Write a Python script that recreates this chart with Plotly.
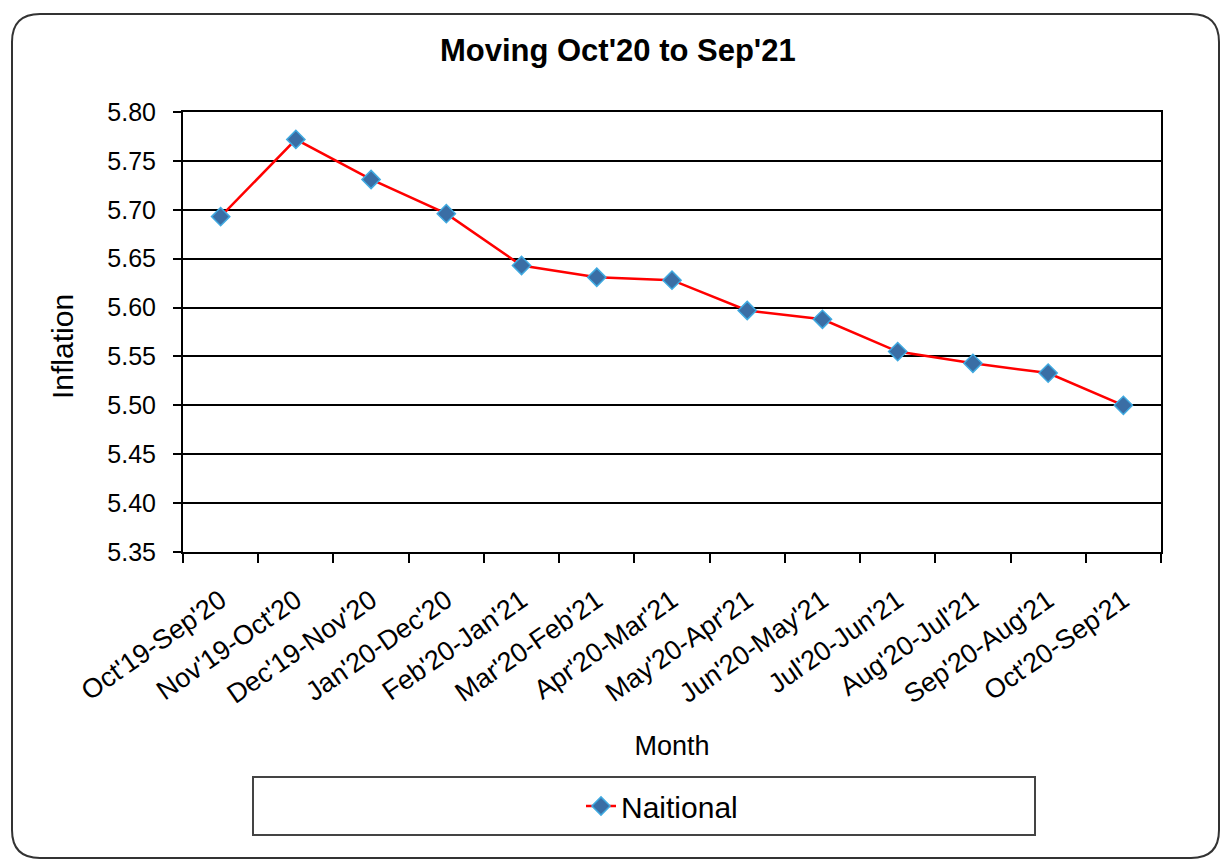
import plotly.graph_objects as go

months = ["Oct'19-Sep'20", "Nov'19-Oct'20", "Dec'19-Nov'20", "Jan'20-Dec'20",
          "Feb'20-Jan'21", "Mar'20-Feb'21", "Apr'20-Mar'21", "May'20-Apr'21",
          "Jun'20-May'21", "Jul'20-Jun'21", "Aug'20-Jul'21", "Sep'20-Aug'21",
          "Oct'20-Sep'21"]
inflation = [5.693, 5.772, 5.731, 5.696, 5.643, 5.631, 5.628, 5.597,
             5.588, 5.555, 5.543, 5.533, 5.500]
y_ticks = [5.35, 5.40, 5.45, 5.50, 5.55, 5.60, 5.65, 5.70, 5.75, 5.80]

FONT = "Liberation Sans, Arial, sans-serif"

fig = go.Figure()
fig.add_trace(go.Scatter(
    x=months, y=inflation, mode="lines+markers", name="Naitional",
    line=dict(color="#FF0000", width=2.5),
    marker=dict(symbol="diamond", size=14, color="#3A6EA5",
                line=dict(color="#3FA9E0", width=1.5)),
))

W, H = 1221, 861
L, R, T, B = 183, 1161, 112, 552
pw, ph = R - L, B - T

def px(x):
    return (x - L) / pw

def py(y):
    return (B - y) / ph

# outer rounded border
x0, x1, y0, y1 = 12, 1219, 14, 858
r = 28
rx, ry = r / pw, r / ph
path = (f"M {px(x0)},{py(y0) - ry} "
        f"Q {px(x0)},{py(y0)} {px(x0) + rx},{py(y0)} "
        f"L {px(x1) - rx},{py(y0)} "
        f"Q {px(x1)},{py(y0)} {px(x1)},{py(y0) - ry} "
        f"L {px(x1)},{py(y1) + ry} "
        f"Q {px(x1)},{py(y1)} {px(x1) - rx},{py(y1)} "
        f"L {px(x0) + rx},{py(y1)} "
        f"Q {px(x0)},{py(y1)} {px(x0)},{py(y1) + ry} Z")

shapes = [
    dict(type="path", xref="paper", yref="paper", path=path,
         line=dict(color="#333333", width=2), layer="below"),
    dict(type="rect", xref="paper", yref="paper",
         x0=px(253), x1=px(1035), y0=py(777), y1=py(835),
         line=dict(color="#444444", width=2)),
]

annotations = [
    dict(text="Inflation", textangle=-90, xref="paper", yref="paper",
         x=px(62), y=py(347), xanchor="center", yanchor="middle",
         showarrow=False, font=dict(size=30, family=FONT, color="black")),
]

fig.update_layout(
    width=W, height=H,
    margin=dict(l=L, r=W - R, t=T, b=H - B),
    paper_bgcolor="white", plot_bgcolor="white",
    font=dict(family=FONT, color="black"),
    title=dict(text="<b>Moving Oct'20 to Sep'21</b>", x=0.506, xref="container",
               y=1 - 50 / H, yref="container", yanchor="middle", xanchor="center",
               font=dict(size=31, family=FONT)),
    showlegend=True,
    legend=dict(x=px(581), y=py(806), xanchor="left", yanchor="middle",
                xref="paper", yref="paper",
                bgcolor="rgba(0,0,0,0)", borderwidth=0,
                font=dict(size=30, family=FONT)),
    shapes=shapes,
    annotations=annotations,
    xaxis=dict(
        type="category", tickangle=-35, tickson="boundaries",
        ticks="outside", ticklen=9, tickwidth=2, tickcolor="black",
        showline=True, linecolor="black", linewidth=2, mirror=True,
        showgrid=False, tickfont=dict(size=27, family=FONT),
        ticklabelstandoff=20,
        title=dict(text="Month", font=dict(size=27, family=FONT), standoff=28),
        range=[-0.5, len(months) - 0.5],
    ),
    yaxis=dict(
        range=[5.35, 5.80], tickvals=y_ticks, tickformat=".2f",
        ticks="outside", ticklen=8, tickwidth=2, tickcolor="black",
        showline=True, linecolor="black", linewidth=2, mirror=True,
        showgrid=True, gridcolor="black", gridwidth=2, zeroline=False,
        tickfont=dict(size=25, family=FONT), ticklabelstandoff=12,
    ),
)

fig.write_html("out.html", config={"displayModeBar": False},
               post_script="document.body.style.margin='0';")
